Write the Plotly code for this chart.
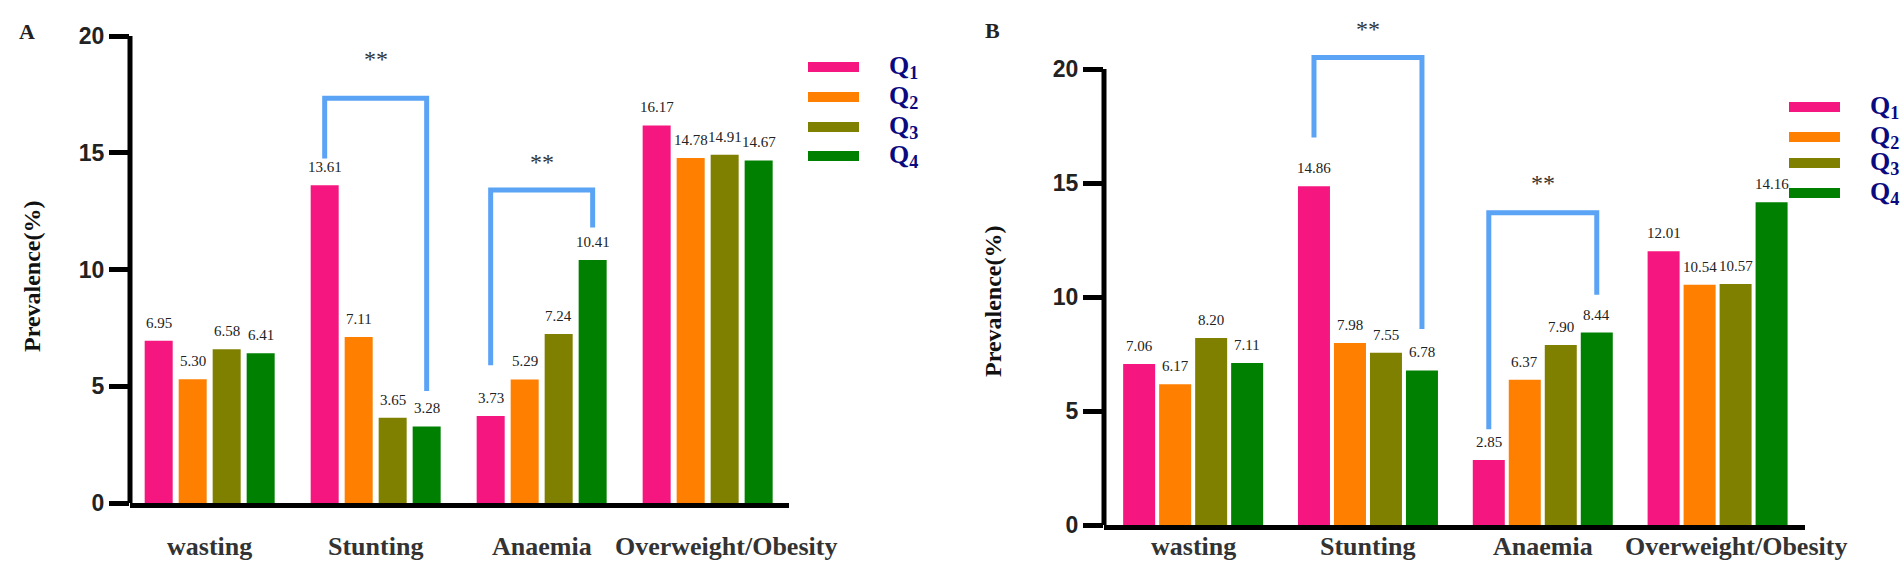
import plotly.graph_objects as go

categories = ["wasting", "Stunting", "Anaemia", "Overweight/Obesity"]
groups = ["Q1", "Q2", "Q3", "Q4"]
colors = ["#F5177F", "#FF7F00", "#808000", "#008000"]
y_ticks = [0, 5, 10, 15, 20]

# panel A
a_q1 = [6.95, 13.61, 3.73, 16.17]
a_q2 = [5.30, 7.11, 5.29, 14.78]
a_q3 = [6.58, 3.65, 7.24, 14.91]
a_q4 = [6.41, 3.28, 10.41, 14.67]

# panel B
b_q1 = [7.06, 14.86, 2.85, 12.01]
b_q2 = [6.17, 7.98, 6.37, 10.54]
b_q3 = [8.20, 7.55, 7.90, 10.57]
b_q4 = [7.11, 6.78, 8.44, 14.16]

# significance brackets: (category index, left leg bottom, top, right leg bottom, star height)
a_brackets = [(1, 14.75, 17.33, 4.8, 19.0), (2, 5.9, 13.4, 11.8, 14.6)]
b_brackets = [(1, 17.0, 20.5, 8.6, 21.75), (2, 4.2, 13.7, 10.1, 15.0)]

W, H = 1902, 565
SERIF = "Liberation Serif, Times New Roman, serif"
SANS = "Liberation Sans, Arial, sans-serif"
BRACKET = "#5BA3F4"
label_shift = [0, 0, 0, 18]  # px nudge of category labels, as in the original

panels = [
    dict(vals=[a_q1, a_q2, a_q3, a_q4], br=a_brackets, xa="x", ya="y",
         xdom=[130 / W, 789 / W], ydom=[1 - 503 / H, 1 - 36 / H], xr=[-0.48, 3.49], yr=[0, 20],
         slot=0.2048, bw=0.1687, label="A", lab_xy=(17, 17), title_xy=(17, 276),
         leg_x=808, leg_y=[67, 97, 127, 156]),
    dict(vals=[b_q1, b_q2, b_q3, b_q4], br=b_brackets, xa="x2", ya="y2",
         xdom=[1104 / W, 1805 / W], ydom=[1 - 525 / H, 1 - 15 / H], xr=[-0.51, 3.5],
         yr=[0, (525 - 15) / 22.8],
         slot=0.2059, bw=0.1831, label="B", lab_xy=(992, 16), title_xy=(993, 301),
         leg_x=1789, leg_y=[107, 137, 163, 193]),
]

fig = go.Figure()
shapes = []
annotations = []

for p in panels:
    slot, bw = p["slot"], p["bw"]
    for i, (g, col, vals) in enumerate(zip(groups, colors, p["vals"])):
        off = (i - 2) * slot + (slot - bw) / 2
        fig.add_trace(go.Bar(
            x=categories, y=vals, name=g, marker=dict(color=col, line=dict(width=0)),
            offset=off, width=bw, xaxis=p["xa"], yaxis=p["ya"], showlegend=False,
        ))
        for ci, v in enumerate(vals):
            annotations.append(dict(
                x=ci + off + bw / 2, y=v, xref=p["xa"], yref=p["ya"], text=f"{v:.2f}",
                showarrow=False, yanchor="bottom", yshift=8,
                font=dict(family=SERIF, size=15, color="#222"),
            ))

    # category labels under the axis
    for ci, (cat, sh) in enumerate(zip(categories, label_shift)):
        annotations.append(dict(
            x=ci, y=1 - 546 / H, xref=p["xa"], yref="paper", text=f"<b>{cat}</b>",
            showarrow=False, yanchor="middle", xshift=sh,
            font=dict(family=SERIF, size=26, color="#333"),
        ))

    # y axis line up to 20 only
    shapes.append(dict(type="line", xref=p["xa"] + " domain", yref=p["ya"], x0=0, x1=0, y0=0, y1=20,
                       line=dict(color="black", width=5)))

    for ci, lb, top, rb, star in p["br"]:
        xl = ci - 1.5 * slot
        xr = ci + 1.5 * slot
        shapes.append(dict(type="path", xref=p["xa"], yref=p["ya"],
                           path=f"M {xl},{lb} L {xl},{top} L {xr},{top} L {xr},{rb}",
                           line=dict(color=BRACKET, width=5)))
        annotations.append(dict(x=ci, y=star, xref=p["xa"], yref=p["ya"], text="**",
                                showarrow=False, font=dict(family=SERIF, size=24, color="#333")))

    # panel letter and y title
    lx, ly = p["lab_xy"]
    annotations.append(dict(x=lx / W, y=1 - ly / H, xref="paper", yref="paper", text="<b>" + p["label"] + "</b>",
                            showarrow=False, font=dict(family=SERIF, size=22, color="#222")))
    tx, ty = p["title_xy"]
    annotations.append(dict(x=tx / W, y=1 - ty / H, xref="paper", yref="paper", text="<b>Prevalence(%)</b>",
                            showarrow=False, textangle=-90, font=dict(family=SERIF, size=24, color="#111")))

    # custom legend
    for g, col, yy in zip(groups, colors, p["leg_y"]):
        shapes.append(dict(type="rect", xref="paper", yref="paper",
                           x0=p["leg_x"] / W, x1=(p["leg_x"] + 51) / W,
                           y0=1 - (yy + 5) / H, y1=1 - (yy - 5) / H,
                           fillcolor=col, line=dict(width=0)))
        annotations.append(dict(x=(p["leg_x"] + 80) / W, y=1 - yy / H, xref="paper", yref="paper",
                                xanchor="left", yanchor="middle", text=f"<b>Q<sub>{g[1]}</sub></b>",
                                showarrow=False, borderpad=0,
                                font=dict(family=SERIF, size=26, color="#0A0A80")))

axis_common = dict(showgrid=False, zeroline=False, automargin=False)
for k, p in enumerate(panels):
    sfx = "" if k == 0 else "2"
    fig.update_layout(**{
        "xaxis" + sfx: dict(domain=p["xdom"], range=p["xr"], type="category", anchor="y" + sfx,
                            showline=True, linewidth=5, linecolor="black", ticks="",
                            showticklabels=False, **axis_common),
        "yaxis" + sfx: dict(domain=p["ydom"], range=p["yr"], anchor="x" + sfx, showline=False,
                            tickvals=y_ticks, ticks="outside", ticklen=20, tickwidth=5, tickcolor="black",
                            tickfont=dict(family=SANS, size=23, color="#222", weight="bold"),
                            **axis_common),
    })

fig.update_layout(
    width=W, height=H, margin=dict(l=0, r=0, t=0, b=0, autoexpand=False),
    plot_bgcolor="white", paper_bgcolor="white", barmode="overlay",
    shapes=shapes, annotations=annotations, showlegend=False,
)

fig.write_html("out.html", config={"displayModeBar": False},
               post_script="document.body.style.margin='0px';document.body.style.overflow='hidden';")
